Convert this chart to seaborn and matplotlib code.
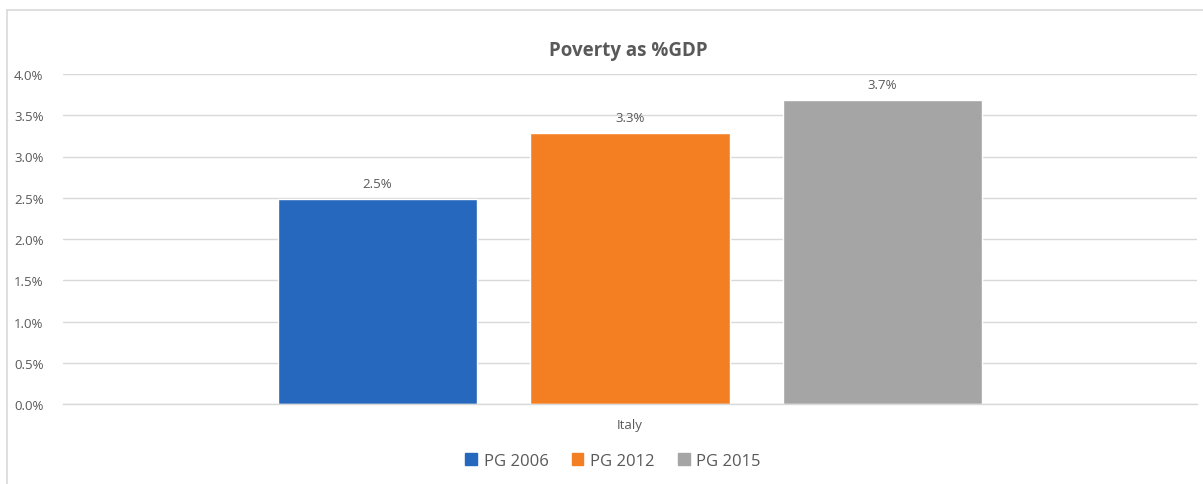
import matplotlib
matplotlib.use("Agg")
import matplotlib.pyplot as plt
from matplotlib.lines import Line2D
from matplotlib.ticker import PercentFormatter
import seaborn as sns
import pandas as pd

categories = ["Italy"]
series = ["PG 2006", "PG 2012", "PG 2015"]
values = [0.0248, 0.0328, 0.0368]
colors = ["#2668BE", "#F47F22", "#A5A5A5"]
title = "Poverty as %GDP"

sns.set_theme(style="white")
plt.rcParams["font.family"] = ["Open Sans", "DejaVu Sans"]

df = pd.DataFrame({"country": categories * len(series), "series": series, "value": values})

fig = plt.figure(figsize=(12.03, 4.85), dpi=100)
ax = fig.add_axes([63 / 1203, 1 - 405 / 485, (1197 - 63) / 1203, 330 / 485])

sns.barplot(data=df, x="country", y="value", hue="series", hue_order=series,
            palette=colors, width=0.668, gap=0.21, saturation=1, ax=ax)

ax.set_ylim(0, 0.04)
ax.set_yticks([i * 0.005 for i in range(9)])
ax.yaxis.set_major_formatter(PercentFormatter(1.0, decimals=1))
ax.grid(axis="y", color="#D9D9D9", linewidth=1)
ax.set_axisbelow(True)
for s in ["top", "right", "left"]:
    ax.spines[s].set_visible(False)
ax.spines["bottom"].set_color("#D9D9D9")
ax.spines["bottom"].set_linewidth(1)
ax.tick_params(axis="both", length=0, colors="#595959", labelsize=9.5)
ax.tick_params(axis="y", pad=14)
ax.tick_params(axis="x", pad=10)
ax.set_xlabel("")
ax.set_ylabel("")

for c in ax.containers:
    ax.bar_label(c, labels=[f"{v*100:.1f}%" for v in c.datavalues],
                 padding=7, fontsize=9.5, color="#595959")

fig.text(0.5225, 1 - 51 / 485, title, ha="center", va="center",
         fontsize=13.5, fontweight="bold", color="#595959")

handles = [plt.Rectangle((0, 0), 1, 1, color=c) for c in colors]
ax.get_legend().remove()
fig.legend(handles, series, loc="center", bbox_to_anchor=(613 / 1203, 1 - 462 / 485),
           ncol=3, frameon=False, fontsize=12, labelcolor="#595959",
           handlelength=0.7, handleheight=0.7, handletextpad=0.4, columnspacing=1.4)

# chart frame
fig.add_artist(Line2D([7 / 1203, 1], [1 - 11 / 485, 1 - 11 / 485], color="#D9D9D9", lw=1.2,
                      transform=fig.transFigure))
fig.add_artist(Line2D([7 / 1203, 7 / 1203], [0, 1 - 11 / 485], color="#D9D9D9", lw=1.2,
                      transform=fig.transFigure))

fig.savefig("out.png", dpi=100)
